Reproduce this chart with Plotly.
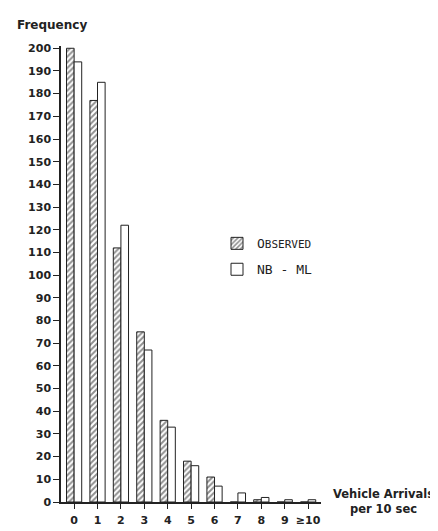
import plotly.graph_objects as go

categories = ["0", "1", "2", "3", "4", "5", "6", "7", "8", "9", "≥10"]
observed = [200, 177, 112, 75, 36, 18, 11, 0, 1, 0, 0]
nb_ml = [194, 185, 122, 67, 33, 16, 7, 4, 2, 1, 1]
y_ticks = list(range(0, 201, 10))

x_pos = list(range(len(categories)))
ink = "#222222"
sans = "DejaVu Sans"

fig = go.Figure()
fig.add_trace(go.Bar(
    x=x_pos, y=observed,
    name="O<span style='font-size:11px'>BSERVED</span>",
    legendgroup="obs",
    marker=dict(color="white", line=dict(color=ink, width=1),
                pattern=dict(shape="/", fgcolor=ink, bgcolor="white", size=4, solidity=0.5)),
))
fig.add_trace(go.Bar(
    x=x_pos, y=nb_ml,
    name="NB - ML",
    legendgroup="nb",
    marker=dict(color="white", line=dict(color=ink, width=1)),
))

fig.update_layout(
    width=438, height=531,
    margin=dict(l=53, r=125, t=38, b=20),
    paper_bgcolor="white", plot_bgcolor="white",
    barmode="group", bargap=0.35, bargroupgap=0.0,
    font=dict(family=sans, color=ink, size=11),
    showlegend=True,
    legend=dict(x=0.6, y=0.6, xanchor="left", yanchor="top",
                font=dict(family="DejaVu Sans Mono", size=13, color=ink),
                bgcolor="rgba(0,0,0,0)", tracegroupgap=6),
    xaxis=dict(range=[-0.56, 10.55], tickmode="array", tickvals=x_pos, ticktext=categories,
               showgrid=False, zeroline=False, showline=True, linecolor=ink, linewidth=1.5,
               ticks="outside", ticklen=5, tickcolor=ink, ticklabelstandoff=2,
               tickfont=dict(size=11, family=sans, color=ink, weight="bold")),
    yaxis=dict(range=[0, 201], tickmode="array", tickvals=y_ticks,
               showgrid=False, zeroline=False, showline=True, linecolor=ink, linewidth=1.5,
               ticks="outside", ticklen=6, tickcolor=ink,
               tickfont=dict(size=11, family=sans, color=ink, weight="bold")),
    annotations=[
        dict(text="<b>Frequency</b>", xref="paper", yref="paper", x=-0.177, y=1.0, yshift=21,
             xanchor="left", yanchor="middle", showarrow=False,
             font=dict(size=12, family=sans, color=ink)),
        dict(text="<b>Vehicle Arrivals<br>per 10 sec</b>", xref="paper", yref="paper",
             x=1.242, y=0.0, yshift=1, xanchor="center", yanchor="middle", showarrow=False,
             align="center", font=dict(size=11.5, family=sans, color=ink)),
    ],
)

fig.write_html("out.html")
